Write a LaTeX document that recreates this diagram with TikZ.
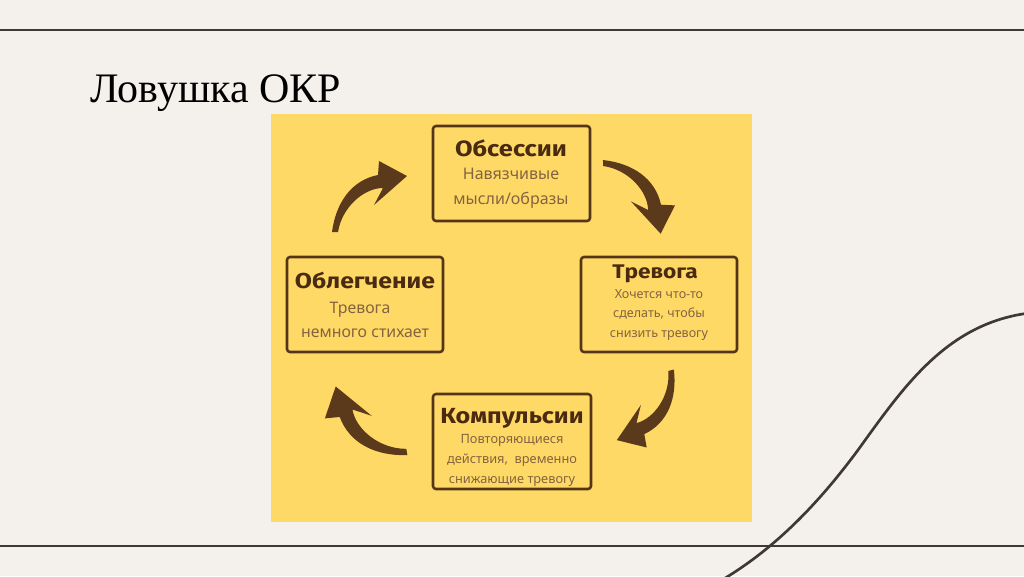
\documentclass[tikz,border=0pt]{standalone}
\usepackage{fontspec}
\setmainfont{Liberation Serif}
\newfontfamily\boxsans{Noto Sans}
\newfontfamily\ttlfont{Fira Sans}[FakeStretch=1.15]
\usetikzlibrary{arrows.meta}
\definecolor{bgc}{HTML}{F4F1EC}
\definecolor{panelc}{HTML}{FFD966}
\definecolor{rulec}{HTML}{3E3836}
\definecolor{boxlinec}{HTML}{553517}
\definecolor{ttlc}{HTML}{4A2A10}
\definecolor{subc}{HTML}{846340}
\definecolor{arrc}{HTML}{5B3A1C}
\tikzset{
  rulestyle/.style={draw=rulec, line width=1.9pt},
  boxstyle/.style={draw=boxlinec, line width=1.9pt, rounded corners=2.25pt, minimum height=71.25pt, inner sep=0pt},
  ttlstyle/.style={text=ttlc, inner sep=0pt, anchor=base},
  substyle/.style={text=subc, inner sep=0pt, anchor=base},
  curvarrow/.pic={
    \fill[arrc] (-2,0) .. controls (2,-30) and (18,-52) .. (44,-57) -- (45,-71) -- (73,-56) -- (40,-27) -- (49,-44) .. controls (30,-44) and (8,-25) .. (4,0) -- cycle;
  },
}
\begin{document}
\begin{tikzpicture}[x=0.75pt, y=-0.75pt]
\fill[bgc] (0,0) rectangle (1024,576);
\useasboundingbox (0,0) rectangle (1024,576);
\draw[rulestyle] (0,30) -- (1024,30);
\draw[rulestyle] (0,546) -- (1024,546);
\coordinate (sA) at (700,592);
\coordinate (sM) at (858,450);
\coordinate (sB) at (1040,312);
\draw[draw=rulec, line width=2pt] (sA) .. controls (760,562) and (810,515) .. (sM) .. controls (905,385) and (950,318) .. (sB);
\node[anchor=base west, inner sep=0pt, font=\fontsize{31.5pt}{36pt}\selectfont] (title) at (90,102) {Ловушка ОКР};
\fill[panelc] (271,114) rectangle (752,522);
% boxes
\node[boxstyle, minimum width=117.75pt] (obs) at (511.5,173.5) {};
\node[boxstyle, minimum width=117pt] (trev) at (659,304.5) {};
\node[boxstyle, minimum width=118.5pt] (komp) at (512,441.5) {};
\node[boxstyle, minimum width=117pt] (obl) at (365,304.5) {};
% texts
\node[ttlstyle, font=\ttlfont\bfseries\fontsize{16.6pt}{20pt}\selectfont] (obsT) at (511,156) {Обсессии};
\node[substyle, font=\boxsans\fontsize{12pt}{14pt}\selectfont] (obsA) at (511,179) {Навязчивые};
\node[substyle, font=\boxsans\fontsize{12pt}{14pt}\selectfont] (obsB) at (511,204) {мысли/образы};
\node[ttlstyle, font=\ttlfont\bfseries\fontsize{14.8pt}{18pt}\selectfont] (trevT) at (655,278) {Тревога};
\node[substyle, font=\boxsans\fontsize{9.4pt}{11pt}\selectfont] (trevA) at (659,298) {Хочется что-то};
\node[substyle, font=\boxsans\fontsize{9.4pt}{11pt}\selectfont] (trevB) at (659,317) {сделать, чтобы};
\node[substyle, font=\boxsans\fontsize{9.4pt}{11pt}\selectfont] (trevC) at (659,337) {снизить тревогу};
\node[ttlstyle, font=\ttlfont\bfseries\fontsize{16.4pt}{19pt}\selectfont] (kompT) at (512,423) {Компульсии};
\node[substyle, font=\boxsans\fontsize{9.6pt}{11pt}\selectfont] (kompA) at (512,443) {Повторяющиеся};
\node[substyle, font=\boxsans\fontsize{9.6pt}{11pt}\selectfont] (kompB) at (512,463) {действия,\ \ временно};
\node[substyle, font=\boxsans\fontsize{9.6pt}{11pt}\selectfont] (kompC) at (512,483) {снижающие тревогу};
\node[ttlstyle, font=\ttlfont\bfseries\fontsize{16.2pt}{19pt}\selectfont] (oblT) at (365,288) {Облегчение};
\node[substyle, font=\boxsans\fontsize{11.9pt}{13pt}\selectfont] (oblA) at (360,313) {Тревога};
\node[substyle, font=\boxsans\fontsize{11.9pt}{13pt}\selectfont] (oblB) at (365,337) {немного стихает};
% arrows
\coordinate (a1s) at (334,232);
\coordinate (a2s) at (603,162);
\coordinate (a3s) at (672,370);
\coordinate (a4s) at (407,453);
\pic at (a1s) {curvarrow};
\pic[rotate=-88.7] at (a2s) {curvarrow};
\pic[rotate=-165.7, scale=0.97] at (a3s) {curvarrow};
\pic[rotate=-260.5, scale=1.06] at (a4s) {curvarrow};
\end{tikzpicture}
\end{document}
